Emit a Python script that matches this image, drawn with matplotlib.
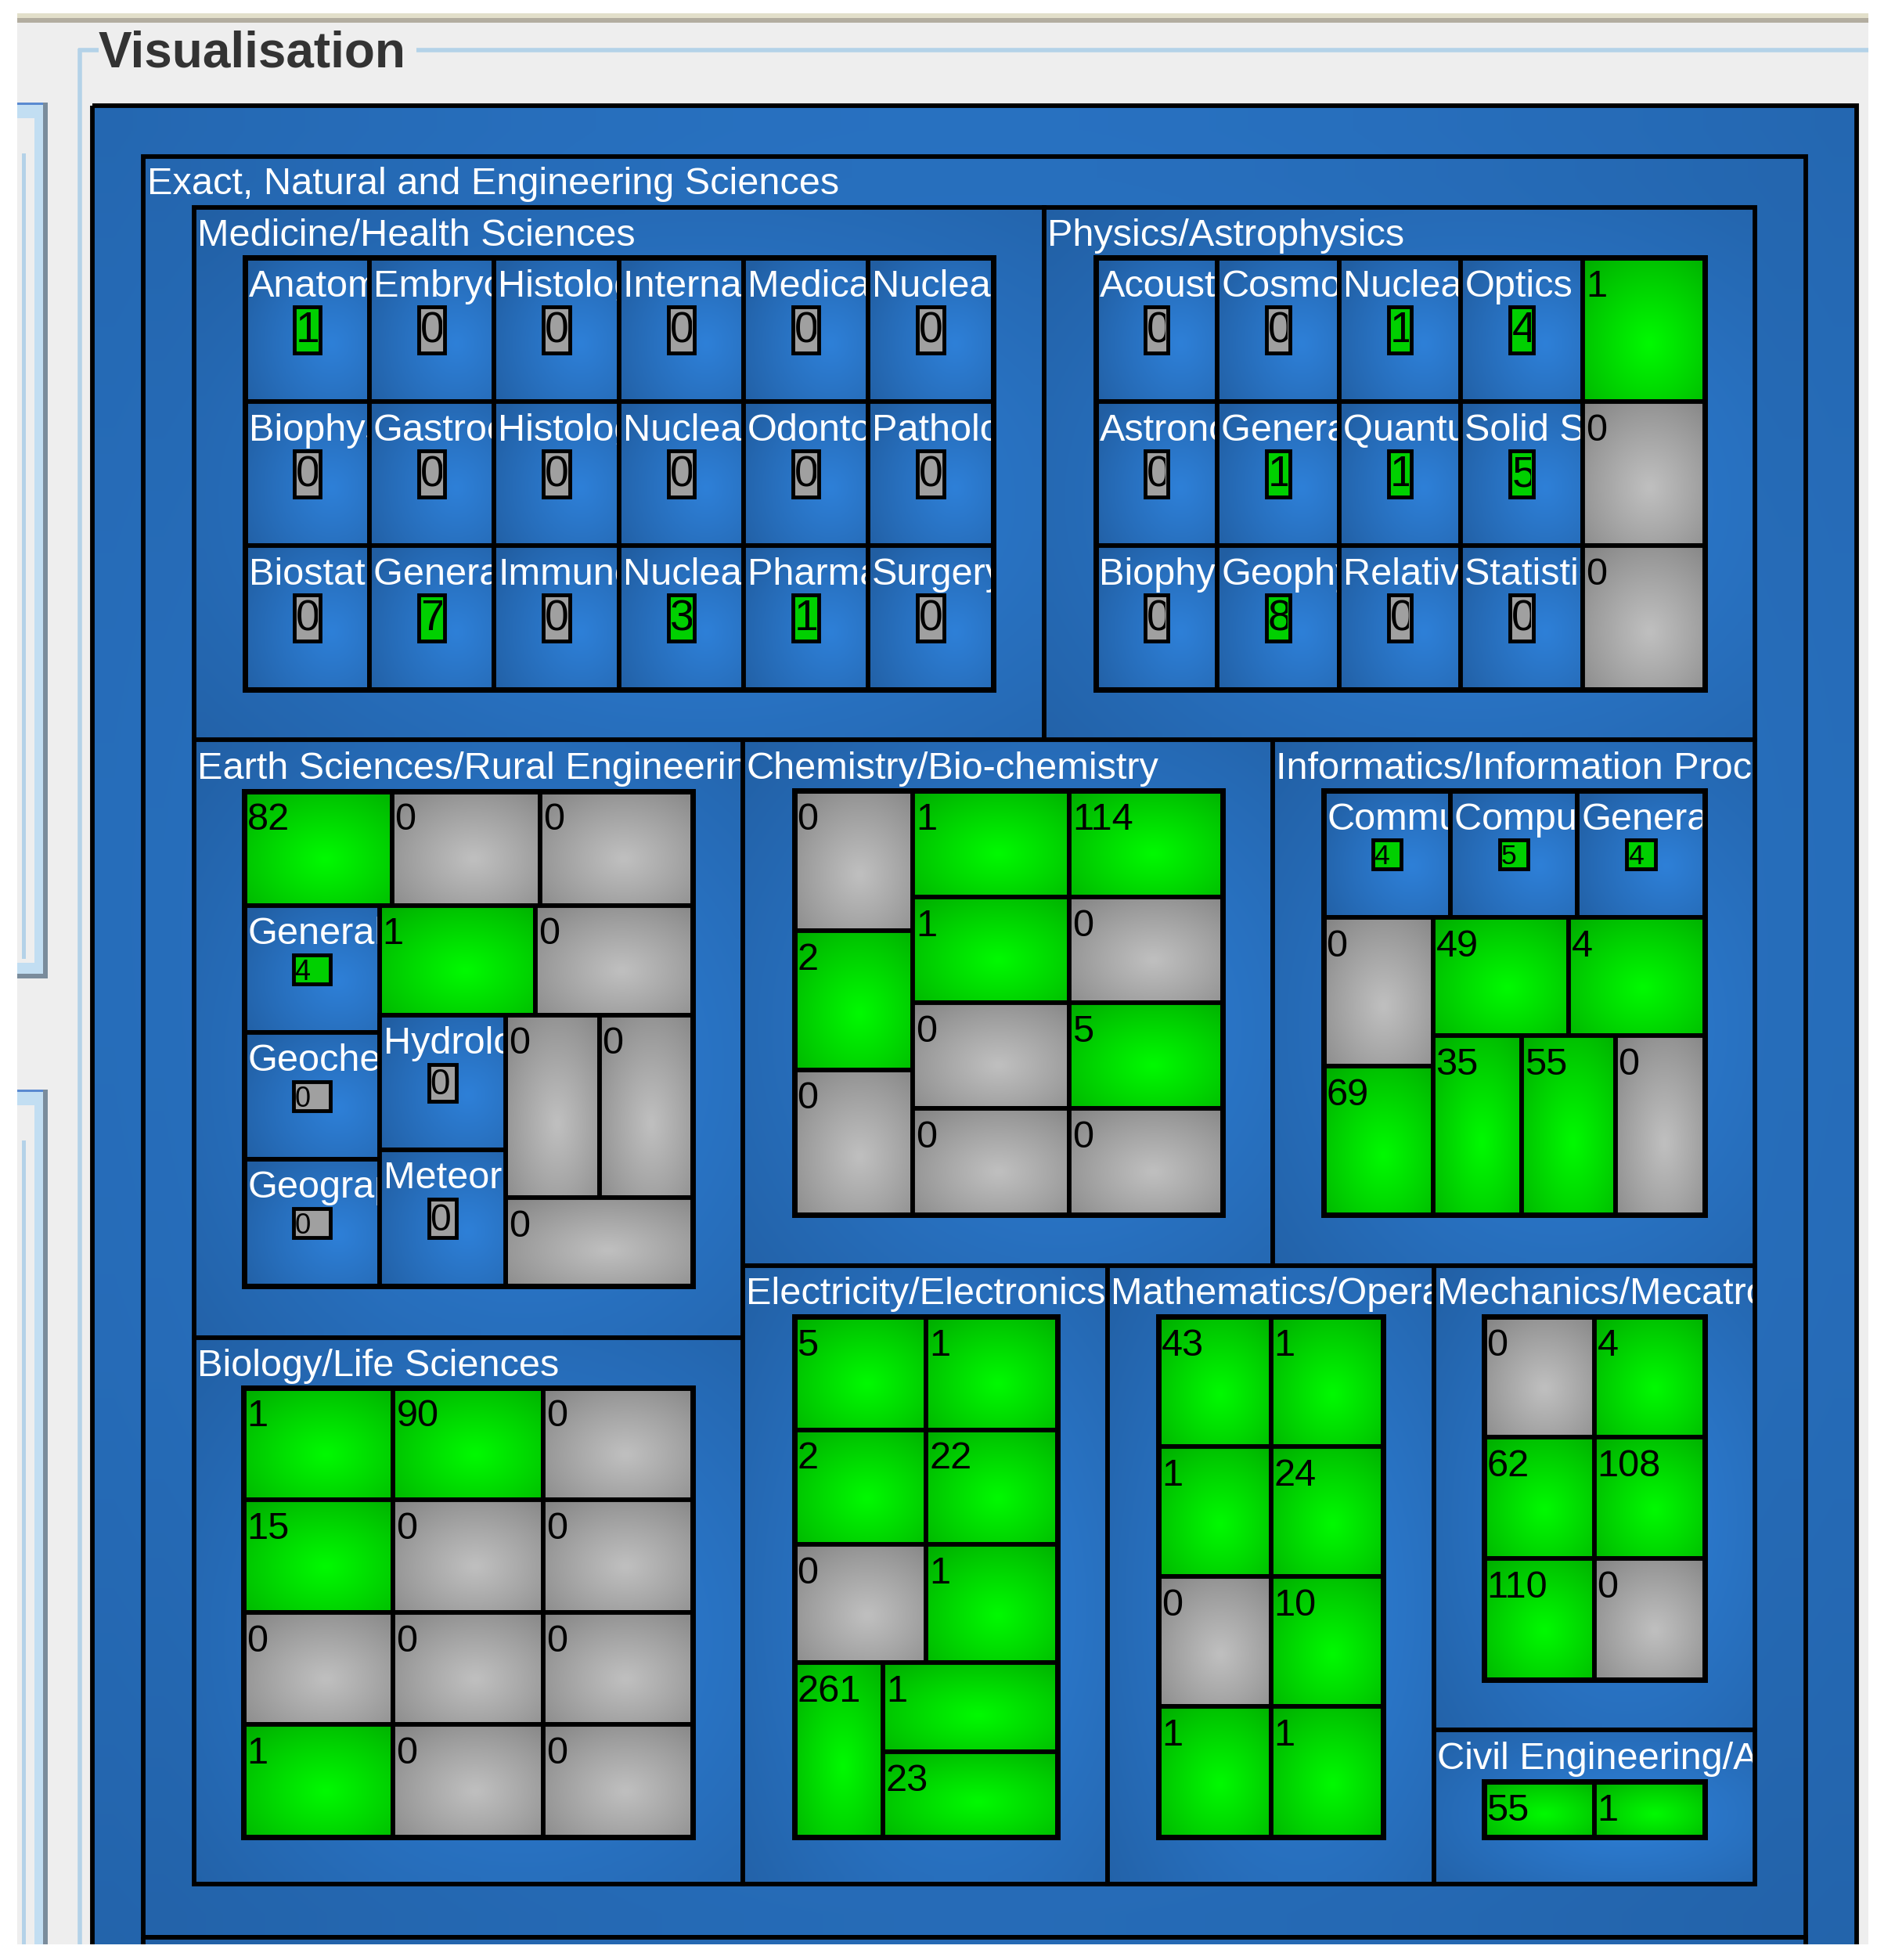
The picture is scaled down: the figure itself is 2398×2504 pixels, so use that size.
import numpy as np
import matplotlib
matplotlib.use("Agg")
import matplotlib.pyplot as plt
from matplotlib.patches import Rectangle
from matplotlib.transforms import Bbox, TransformedBbox

W, H = 2398, 2504
FONT = ['Liberation Sans Narrow', 'Liberation Sans', 'DejaVu Sans']

# ---------------- data ----------------
title = "Visualisation"
root_label = "Exact, Natural and Engineering Sciences"

group_labels = ["Medicine/Health Sciences", "Physics/Astrophysics",
                "Earth Sciences/Rural Engineering", "Chemistry/Bio-chemistry",
                "Informatics/Information Processing", "Biology/Life Sciences",
                "Electricity/Electronics", "Mathematics/Operational Research",
                "Mechanics/Mecatronics", "Civil Engineering/Architecture"]

med_labels = ["Anatomy", "Embryology", "Histology", "Internal Medicine", "Medical Imaging", "Nuclear Medicine",
              "Biophysics", "Gastroenterology", "Histology", "Nuclear Medicine", "Odontology", "Pathology",
              "Biostatistics", "General Medicine", "Immunology", "Nuclear Medicine", "Pharmacology", "Surgery"]
med_values = [1, 0, 0, 0, 0, 0,
              0, 0, 0, 0, 0, 0,
              0, 7, 0, 3, 1, 0]

phys_labels = ["Acoustics", "Cosmology", "Nuclear Physics", "Optics",
               "Astronomy", "General Physics", "Quantum Physics", "Solid State Physics",
               "Biophysics", "Geophysics", "Relativity", "Statistical Physics"]
phys_values = [0, 0, 1, 4,
               0, 1, 1, 5,
               0, 8, 0, 0]
phys_leaf_values = [1, 0, 0]

earth_labels = ["General", "Geochemistry", "Geography", "Hydrology", "Meteorology"]
earth_values = [4, 0, 0, 0, 0]
earth_leaf_values = [82, 0, 0, 1, 0, 0, 0, 0]

chem_values = [0, 2, 0, 1, 1, 0, 0, 114, 0, 5, 0]

info_labels = ["Communications", "Computer Science", "General"]
info_values = [4, 5, 4]
info_leaf_values = [0, 69, 49, 4, 35, 55, 0]

bio_values = [1, 90, 0, 15, 0, 0, 0, 0, 0, 1, 0, 0]
elec_values = [5, 1, 2, 22, 0, 1, 261, 1, 23]
math_values = [43, 1, 1, 24, 0, 10, 1, 1]
mech_values = [0, 4, 62, 108, 110, 0]
civil_values = [55, 1]


# ---------------- layout (screen pixels) ----------------
def grid(x0, y0, x1, y1, nr, nc):
    xs = np.linspace(x0, x1, nc + 1)
    ys = np.linspace(y0, y1, nr + 1)
    return [(xs[c], ys[r], xs[c + 1], ys[r + 1]) for r in range(nr) for c in range(nc)]


group_boxes = [(248, 264.5, 1334, 945), (1334, 264.5, 2242, 945),
               (248, 945, 949, 1708.5), (949, 945, 1625.5, 1616.5),
               (1625.5, 945, 2242, 1616.5), (248, 1708.5, 949, 2407),
               (949, 1616.5, 1415, 2407), (1415, 1616.5, 1831.5, 2407),
               (1831.5, 1616.5, 2242, 2209.5), (1831.5, 2209.5, 2242, 2407)]

med_cells = grid(312.5, 329, 1268.5, 881, 3, 6)
phys_all = grid(1399.5, 329, 2177.5, 881, 3, 5)
phys_cells = [r for i, r in enumerate(phys_all) if i % 5 != 4]
phys_leaf_cells = [r for i, r in enumerate(phys_all) if i % 5 == 4]

earth_cells = [(311.5, 1156.5, 484.5, 1318.5), (311.5, 1318.5, 484.5, 1480.5),
               (311.5, 1480.5, 484.5, 1643), (484.5, 1296.5, 646, 1468.5),
               (484.5, 1468.5, 646, 1643)]
earth_leaf_cells = [(311.5, 1010.5, 500.5, 1156.5), (500.5, 1010.5, 690, 1156.5),
                    (690, 1010.5, 885, 1156.5), (484.5, 1156.5, 684, 1296.5),
                    (684, 1156.5, 885, 1296.5), (646, 1296.5, 765.5, 1529.5),
                    (765.5, 1296.5, 885, 1529.5), (646, 1529.5, 885, 1643)]

chem_cells = [(1014.5, 1010, 1166, 1189), (1014.5, 1189, 1166, 1366.5), (1014.5, 1366.5, 1166, 1552)]
chem_rows = [1010, 1145.5, 1281, 1415.5, 1552]
chem_cells += [(1166, chem_rows[i], 1366, chem_rows[i + 1]) for i in range(4)]
chem_cells += [(1366, chem_rows[i], 1561.5, chem_rows[i + 1]) for i in range(4)]

info_cells = grid(1690.5, 1010, 2177.5, 1171.5, 1, 3)
info_leaf_cells = [(1690.5, 1171.5, 1830.5, 1362), (1690.5, 1362, 1830.5, 1552),
                   (1830.5, 1171.5, 2003.5, 1323), (2003.5, 1171.5, 2177.5, 1323),
                   (1830.5, 1323, 1944, 1552), (1944, 1323, 2063.5, 1552),
                   (2063.5, 1323, 2177.5, 1552)]

bio_cells = grid(311, 1772.5, 885, 2346.5, 4, 3)
elec_rows = [1681.5, 1826.5, 1973, 2124]
elec_cells = [(x0, elec_rows[r], x1, elec_rows[r + 1])
              for r in range(3) for (x0, x1) in [(1014.5, 1183), (1183, 1350.5)]]
elec_cells += [(1014.5, 2124, 1128, 2346.5), (1128, 2124, 1350.5, 2237.5), (1128, 2237.5, 1350.5, 2346.5)]
math_cells = grid(1480, 1681.5, 1767, 2346.5, 4, 2)
mech_cells = grid(1895.5, 1681.5, 2177.5, 2145.5, 3, 2)
civil_cells = grid(1895.5, 2275.5, 2177.5, 2346.5, 1, 2)

# ---------------- drawing ----------------
fig = plt.figure(figsize=(W / 100, H / 100), dpi=100)
ax = fig.add_axes([0, 0, 1, 1])
ax.set_xlim(0, W)
ax.set_ylim(H, 0)
ax.axis('off')
fig.patch.set_facecolor('white')

Z = [1.0]


def z():
    Z[0] += 0.01
    return Z[0]


COLS = {'blue': ((33, 94, 162), (46, 128, 216)),
        'green': ((0, 165, 0), (0, 250, 0)),
        'gray': ((126, 126, 126), (192, 192, 192))}
LW = 4.2


def shade(x0, y0, x1, y1, kind, hx=0.55, hy=0.6):
    edge, mid = (np.array(c) / 255.0 for c in COLS[kind])
    n = 40
    X, Y = np.meshgrid(np.linspace(0, 1, n), np.linspace(0, 1, n))
    r = np.sqrt((X - hx) ** 2 + (Y - hy) ** 2) / 0.85
    t = np.clip(1 - r, 0, 1) ** 0.9
    img = edge + (mid - edge) * t[..., None]
    ax.imshow(img, extent=(x0, x1, y1, y0), interpolation='bilinear',
              aspect='auto', zorder=z())


def box(x0, y0, x1, y1, lw=LW):
    ax.add_patch(Rectangle((x0, y0), x1 - x0, y1 - y0, fill=False,
                           ec='black', lw=lw, zorder=z()))


def label(x0, y0, x1, y1, s, color, size=35, dx=5, dy=15, weight='normal'):
    t = ax.text(x0 + dx, y0 + dy, s, color=color, fontsize=size, va='top', ha='left',
                family=FONT, fontweight=weight, zorder=z(), clip_on=True)
    # y0 < y1 in data, so the display box keeps a positive height
    t.set_clip_box(TransformedBbox(Bbox([[x0 + 3, y0 + 3], [x1 - 3, y1 - 3]]), ax.transData))


def leaf(rect, value):
    x0, y0, x1, y1 = rect
    shade(x0, y0, x1, y1, 'green' if value > 0 else 'gray')
    box(x0, y0, x1, y1)
    label(x0, y0, x1, y1, str(value), 'black', dx=4)


def badge_cell(rect, name, value):
    x0, y0, x1, y1 = rect
    shade(x0, y0, x1, y1, 'blue', hx=0.7, hy=0.6)
    box(x0, y0, x1, y1)
    label(x0, y0, x1, y1, name, 'white')
    bx0, bx1 = x0 + 63, x1 - 63
    by0, by1 = y0 + 63, y1 - 62
    ax.add_patch(Rectangle((bx0, by0), bx1 - bx0, by1 - by0,
                           fc='#00d000' if value > 0 else '#a0a0a0',
                           ec='black', lw=3.5, zorder=z()))
    size = min((by1 - by0) * 0.7, 40) / 0.72 / 1.389
    label(bx0, by0, bx1, by1, str(value), 'black', size=size, dx=2, dy=5)


# page background
ax.add_patch(Rectangle((22, 17), 2365, 2467, fc='#eeeeee', ec='none', zorder=z()))
ax.add_patch(Rectangle((22, 17), 2365, 6, fc='#e2dfca', ec='none', zorder=z()))
ax.add_patch(Rectangle((22, 23), 2365, 6, fc='#b2ada0', ec='none', zorder=z()))

# fragments of the neighbouring panel on the left
for top, bot in [(131, 1250), (1392, 2600)]:
    ax.add_patch(Rectangle((22, top), 39, bot - top, fc='#c2def2', ec='none', zorder=z()))
    ax.add_patch(Rectangle((55, top), 6, bot - top, fc='#7a8c9c', ec='none', zorder=z()))
    ax.add_patch(Rectangle((22, top), 33, 3, fc='#5a8ad0', ec='none', zorder=z()))
    ax.add_patch(Rectangle((22, top + 20), 22, bot - top - 40, fc='#eeeeee', ec='none', zorder=z()))
    ax.add_patch(Rectangle((28, top + 65), 5, bot - top - 90, fc='#b4d2e8', ec='none', zorder=z()))
    ax.add_patch(Rectangle((22, bot - 6), 39, 6, fc='#7a8c9c', ec='none', zorder=z()))

# group frame and title
ax.plot([100, 126], [64, 64], color='#b4d2e8', lw=4, solid_capstyle='butt', zorder=z())
ax.plot([532, W], [64, 64], color='#b4d2e8', lw=4, solid_capstyle='butt', zorder=z())
ax.plot([102, 102], [62, H], color='#b4d2e8', lw=4, solid_capstyle='butt', zorder=z())
ax.text(126, 38, title, fontsize=46, fontweight='bold', color='#333333', va='top', ha='left',
        family=FONT, zorder=z())

# outer panel and first-level boxes
shade(118, 134.5, 2371.5, 2700, 'blue', hx=0.5, hy=0.4)
box(118, 134.5, 2371.5, 2700)
shade(183, 199.5, 2307, 2474.5, 'blue', hx=0.5, hy=0.45)
box(183, 199.5, 2307, 2474.5)
label(183, 199.5, 2307, 2474.5, root_label, 'white', dx=5, dy=14)
shade(183, 2474.5, 2307, 2700, 'blue')
box(183, 2474.5, 2307, 2700)

# second-level boxes
for (x0, y0, x1, y1), name in zip(group_boxes, group_labels):
    shade(x0, y0, x1, y1, 'blue', hx=0.6, hy=0.55)
    box(x0, y0, x1, y1)
    label(x0, y0, x1, y1, name, 'white', dx=4, dy=15)

for rect, name, v in zip(med_cells, med_labels, med_values):
    badge_cell(rect, name, v)
for rect, name, v in zip(phys_cells, phys_labels, phys_values):
    badge_cell(rect, name, v)
for rect, v in zip(phys_leaf_cells, phys_leaf_values):
    leaf(rect, v)
for rect, v in zip(earth_leaf_cells, earth_leaf_values):
    leaf(rect, v)
for rect, name, v in zip(earth_cells, earth_labels, earth_values):
    badge_cell(rect, name, v)
for rect, v in zip(chem_cells, chem_values):
    leaf(rect, v)
for rect, name, v in zip(info_cells, info_labels, info_values):
    badge_cell(rect, name, v)
for rect, v in zip(info_leaf_cells, info_leaf_values):
    leaf(rect, v)
for cells, vals in [(bio_cells, bio_values), (elec_cells, elec_values), (math_cells, math_values),
                    (mech_cells, mech_values), (civil_cells, civil_values)]:
    for rect, v in zip(cells, vals):
        leaf(rect, v)

# grid outlines
for gx0, gy0, gx1, gy1 in [(312.5, 329, 1268.5, 881), (1399.5, 329, 2177.5, 881),
                           (311.5, 1010.5, 885, 1643), (1014.5, 1010, 1561.5, 1552),
                           (1690.5, 1010, 2177.5, 1552), (311, 1772.5, 885, 2346.5),
                           (1014.5, 1681.5, 1350.5, 2346.5), (1480, 1681.5, 1767, 2346.5),
                           (1895.5, 1681.5, 2177.5, 2145.5), (1895.5, 2275.5, 2177.5, 2346.5)]:
    box(gx0, gy0, gx1, gy1, lw=5)

# window edges (white)
ax.add_patch(Rectangle((0, 2484), W, 30, fc='white', ec='none', zorder=50))
ax.add_patch(Rectangle((2387, 0), 20, H, fc='white', ec='none', zorder=50))
ax.add_patch(Rectangle((0, 0), 22, H, fc='white', ec='none', zorder=50))
ax.add_patch(Rectangle((0, 0), W, 17, fc='white', ec='none', zorder=50))

ax.set_xlim(0, W)
ax.set_ylim(H, 0)
fig.savefig("out.png", dpi=100)
